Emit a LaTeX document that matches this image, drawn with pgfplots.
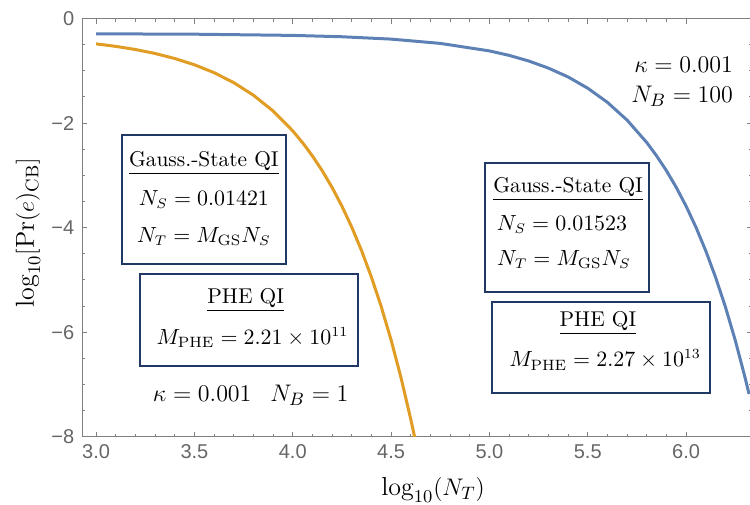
\documentclass[border=0pt]{standalone}
\usepackage{pgfplots}
\pgfplotsset{compat=1.18}
\usepackage{fontspec}
\newfontfamily\ticksf{Liberation Sans}
\definecolor{mblue}{rgb}{0.368417,0.506779,0.709798}
\definecolor{morange}{rgb}{0.880722,0.611041,0.142051}
\definecolor{boxc}{HTML}{1F3864}
\definecolor{axc}{gray}{0.5}
\definecolor{tlc}{gray}{0.4}
\tikzset{boxt/.style={font=\fontsize{10.7}{12}\selectfont}, kt/.style={font=\fontsize{12.6}{14}\selectfont}}
\begin{document}
\begin{tikzpicture}
\begin{axis}[name=ax, scale only axis, width=334.85pt, height=209.1pt,
  xmin=2.93, xmax=6.335, ymin=-8, ymax=0,
  axis line style={axc, line width=0.6pt},
  tick style={axc, line width=0.5pt},
  tick align=inside, major tick length=2.6pt, minor tick length=1.5pt,
  xtick={3,3.5,4,4.5,5,5.5,6}, xticklabels={3.0,3.5,4.0,4.5,5.0,5.5,6.0},
  ytick={-8,-6,-4,-2,0}, yticklabels={−8,−6,−4,−2,0},
  minor x tick num=4, minor y tick num=3,
  tick label style={font=\ticksf\fontsize{10}{11}\selectfont, text=tlc},
  xticklabel style={yshift=-0.5pt},
  yticklabel style={xshift=-0.5pt},
  xlabel={$\log_{10}(N_T)$}, ylabel={$\log_{10}[\Pr(e)_{\mathrm{CB}}]$},
  label style={font=\fontsize{13}{15}\selectfont},
  x label style={at={(axis description cs:0.5237,-0.1275)}, anchor=center},
  y label style={at={(axis description cs:-0.081,0.488)}, anchor=center},
  clip=true,
]
\addplot[mblue, line width=1.5pt] coordinates {
(3.0,-0.293) (3.5,-0.300) (4.0,-0.323) (4.25,-0.349) (4.5,-0.394) (4.75,-0.476) (5.0,-0.620)
(5.1,-0.705) (5.2,-0.813) (5.3,-0.949) (5.4,-1.118) (5.5,-1.334) (5.6,-1.604) (5.7,-1.944)
(5.8,-2.373) (5.85,-2.628) (5.9,-2.912) (5.95,-3.231) (6.0,-3.590) (6.05,-3.993) (6.1,-4.445)
(6.15,-4.952) (6.2,-5.520) (6.25,-6.158) (6.3,-6.874) (6.32,-7.184)
};
\addplot[morange, line width=1.5pt] coordinates {
(3.0,-0.485) (3.1,-0.533) (3.2,-0.593) (3.3,-0.669) (3.4,-0.765) (3.5,-0.885) (3.6,-1.036)
(3.7,-1.227) (3.8,-1.467) (3.9,-1.769) (4.0,-2.150) (4.05,-2.376) (4.1,-2.629) (4.15,-2.913)
(4.2,-3.232) (4.25,-3.590) (4.3,-3.991) (4.35,-4.442) (4.4,-4.947) (4.45,-5.514) (4.5,-6.150)
(4.55,-6.864) (4.6,-7.665) (4.62,-8.012) (4.65,-8.564)
};
% boxes
\draw[boxc, line width=1pt] (axis cs:3.131,-2.222) rectangle (axis cs:3.966,-4.693);
\draw[boxc, line width=1pt] (axis cs:3.225,-4.885) rectangle (axis cs:4.334,-6.642);
\draw[boxc, line width=1pt] (axis cs:4.978,-2.764) rectangle (axis cs:5.813,-5.224);
\draw[boxc, line width=1pt] (axis cs:5.015,-5.427) rectangle (axis cs:6.122,-7.170);
\node[boxt] at (axis cs:3.548,-2.759) {\underline{Gauss.-State QI}};
\node[boxt] at (axis cs:3.548,-3.467) {$N_S = 0.01421$};
\node[boxt] at (axis cs:3.548,-4.176) {$N_T = M_{\mathrm{GS}}N_S$};
\node[boxt] at (axis cs:3.761,-5.383) {\underline{PHE QI}};
\node[boxt] at (axis cs:3.795,-6.098) {$M_{\mathrm{PHE}} = 2.21\times 10^{11}$};
\node[boxt] at (axis cs:5.400,-3.257) {\underline{Gauss.-State QI}};
\node[boxt] at (axis cs:5.369,-3.946) {$N_S = 0.01523$};
\node[boxt] at (axis cs:5.379,-4.617) {$N_T = M_{\mathrm{GS}}N_S$};
\node[boxt] at (axis cs:5.552,-5.824) {\underline{PHE QI}};
\node[boxt] at (axis cs:5.588,-6.533) {$M_{\mathrm{PHE}} = 2.27\times 10^{13}$};
\node[kt] at (axis cs:3.786,-7.216) {$\kappa = 0.001\hspace{0.75em}N_B = 1$};
\node[kt, anchor=east] at (axis cs:6.274,-0.881) {$\kappa = 0.001$};
\node[kt, anchor=east] at (axis cs:6.274,-1.489) {$N_B = 100$};
\end{axis}
\pgfresetboundingbox
\path (ax.south west) ++(-41.15pt,-33.65pt) rectangle ++(375pt,252pt);
\end{tikzpicture}
\end{document}
